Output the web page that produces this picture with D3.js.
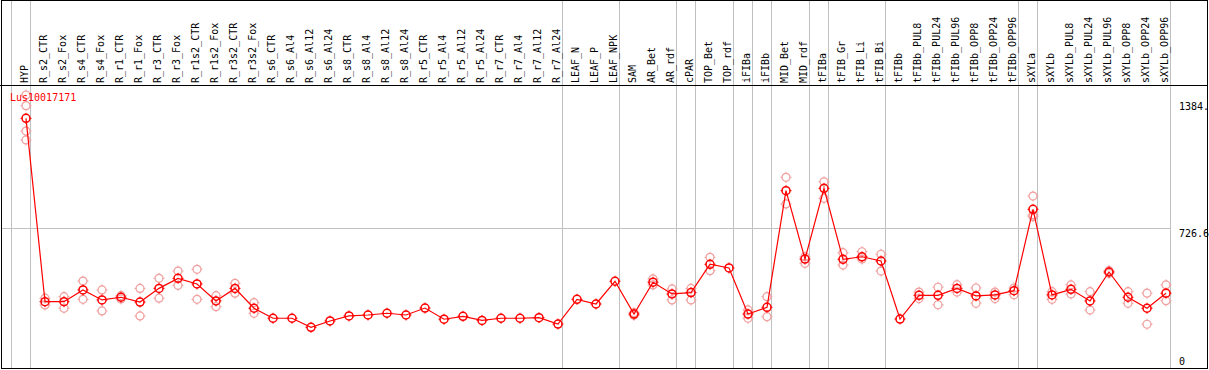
<!DOCTYPE html>
<html>
<head>
<meta charset="utf-8">
<script src="https://cdn.jsdelivr.net/npm/d3@7"></script>
<style>
  body { margin: 0; background: #fff; }
  text { font-family: "DejaVu Sans Mono", monospace; font-size: 10px; }
</style>
</head>
<body>
<div id="chart"></div>
<script>
// Sample names (columns)
const labels = ["HYP", "R_s2_CTR", "R_s2_Fox", "R_s4_CTR", "R_s4_Fox", "R_r1_CTR", "R_r1_Fox",
  "R_r3_CTR", "R_r3_Fox", "R_r1s2_CTR", "R_r1s2_Fox", "R_r3s2_CTR", "R_r3s2_Fox", "R_s6_CTR",
  "R_s6_Al4", "R_s6_Al12", "R_s6_Al24", "R_s8_CTR", "R_s8_Al4", "R_s8_Al12", "R_s8_Al24",
  "R_r5_CTR", "R_r5_Al4", "R_r5_Al12", "R_r5_Al24", "R_r7_CTR", "R_r7_Al4", "R_r7_Al12", "R_r7_Al24",
  "LEAF_N", "LEAF_P", "LEAF_NPK", "SAM", "AR_Bet", "AR_rdf", "cPAR", "TOP_Bet", "TOP_rdf",
  "iFIBa", "iFIBb", "MID_Bet", "MID_rdf", "tFIBa", "tFIB_Gr", "tFIB_Li", "tFIB_Bi", "tFIBb",
  "tFIBb_PUL8", "tFIBb_PUL24", "tFIBb_PUL96", "tFIBb_OPP8", "tFIBb_OPP24", "tFIBb_OPP96",
  "sXYLa", "sXYLb", "sXYLb_PUL8", "sXYLb_PUL24", "sXYLb_PUL96", "sXYLb_OPP8", "sXYLb_OPP24", "sXYLb_OPP96"];

// last sample of each tissue group (gray separators after them)
const groupEnds = ["HYP", "R_r7_Al24", "LEAF_NPK", "AR_rdf", "cPAR", "TOP_rdf", "iFIBa", "iFIBb",
  "MID_rdf", "tFIBa", "tFIB_Bi", "tFIBb_OPP96", "sXYLa", "sXYLb_OPP96"];

// mean expression
const meanVals = [1295, 344, 344, 405, 353, 367, 342, 413, 465, 436, 348, 413, 310, 258,
  258, 211, 244, 270, 275, 284, 275, 311, 253, 268, 247, 258, 258, 261, 228,
  356, 332, 450, 280, 445, 384, 391, 538, 519,
  280, 315, 920, 565, 932, 564, 577, 555, 254,
  377, 377, 413, 374, 379, 401,
  823, 379, 408, 348, 498, 367, 310, 388];

// replicates
const rep1 = [1416, 362, 370, 451, 405, 375, 413, 465, 503, 512, 375, 439, 339, null,
  null, null, null, null, null, null, null, null, null, null, null, null, null, null, null,
  null, null, null, 287, 462, 410, 413, 574, null,
  301, 370, 989, 577, 966, 598, 603, 590, null,
  394, 419, 432, 415, 394, 415,
  892, 396, 431, 396, 505, 396, 388, 431];
const rep2 = [1361, 327, 310, 356, 296, 358, 270, 362, 429, 356, 318, 388, 284, null,
  null, null, null, null, null, null, null, null, null, null, null, null, null, null, null,
  null, null, null, 273, 431, 353, 353, 505, null,
  258, 266, 851, 543, 880, 534, 565, 503, null,
  360, 328, 394, 336, 360, 380,
  794, 356, 384, 301, 491, 336, 227, 349];
const rep3 = labels.map(d => d === "HYP" ? 1229 : d === "sXYLa" ? 785 : null);
const rep4 = labels.map(d => d === "HYP" ? 1183 : null);

const tickVals = [0, 726.6, 1384];
const tickText = ["0", "726.6", "1384."];
const geneName = "Lus10017171";

const W = 1209, H = 370;
const plotTop = 85, plotBottom = 368, plotLeft = 2, plotRight = 1170.5;

const svg = d3.select("#chart").append("svg")
  .attr("width", W).attr("height", H);

const x = d3.scaleBand().domain(labels).range([11.5, plotRight]).padding(0);
const px = d => x(d) + 14.5;
const y = d3.scaleLinear().domain([0, 1468]).range([plotBottom, plotTop]);

// horizontal grid line
svg.append("line")
  .attr("x1", plotLeft).attr("x2", plotRight)
  .attr("y1", Math.round(y(726.6)) + 0.5).attr("y2", Math.round(y(726.6)) + 0.5)
  .attr("stroke", "#c0c0c0");

// group separators
const seps = [x(labels[0])].concat(groupEnds.map(d => x(d) + x.step()));
svg.selectAll(".sep").data(seps).enter().append("line")
  .attr("x1", d => Math.round(d) - 0.5).attr("x2", d => Math.round(d) - 0.5)
  .attr("y1", 0).attr("y2", plotBottom)
  .attr("stroke", "#c0c0c0");

// frame
svg.append("rect").attr("x", 1.5).attr("y", 0.5).attr("width", 1206).attr("height", plotBottom)
  .attr("fill", "none").attr("stroke", "#000");
svg.append("line").attr("x1", 0).attr("x2", 1208).attr("y1", plotTop + 0.5).attr("y2", plotTop + 0.5)
  .attr("stroke", "#000");

// column labels
svg.selectAll(".lab").data(labels).enter().append("text")
  .attr("transform", d => `translate(${x(d) + 16.5},83) rotate(-90)`)
  .attr("fill", "#000")
  .text(d => d);

// right-hand value labels
svg.selectAll(".tick").data(tickVals).enter().append("text")
  .attr("x", 1179)
  .attr("y", d => d === 0 ? y(d) - 3 : y(d) + 9)
  .attr("fill", "#000")
  .text((d, i) => tickText[i]);

// marker drawing
function marker(g, color, sw) {
  g.append("circle").attr("r", 4).attr("fill", "none").attr("stroke", color).attr("stroke-width", sw);
  g.append("path").attr("d", "M0,-5.5V-3.5M0,3.5V5.5M-5.5,0H-3.5M3.5,0H5.5")
    .attr("stroke", color).attr("stroke-width", 1);
}

// replicate points
const reps = [];
[rep1, rep2, rep3, rep4].forEach(arr => arr.forEach((v, i) => {
  if (v !== null) reps.push({ label: labels[i], v });
}));
svg.selectAll(".rep").data(reps).enter().append("g")
  .attr("transform", d => `translate(${px(d.label)},${y(d.v)})`)
  .each(function () { marker(d3.select(this), "#f0a0a0", 1.2); });

// mean line
const pts = labels.map((d, i) => ({ label: d, v: meanVals[i] }));
svg.append("path").datum(pts)
  .attr("fill", "none").attr("stroke", "#ff0000").attr("stroke-width", 1.2)
  .attr("d", d3.line().x(d => px(d.label)).y(d => y(d.v)));

svg.selectAll(".pt").data(pts).enter().append("g")
  .attr("transform", d => `translate(${px(d.label)},${y(d.v)})`)
  .each(function () { marker(d3.select(this), "#ff0000", 1.5); });

// gene name
svg.append("text").attr("x", 10).attr("y", 101).attr("fill", "#ff0000").text(geneName);
</script>
</body>
</html>
